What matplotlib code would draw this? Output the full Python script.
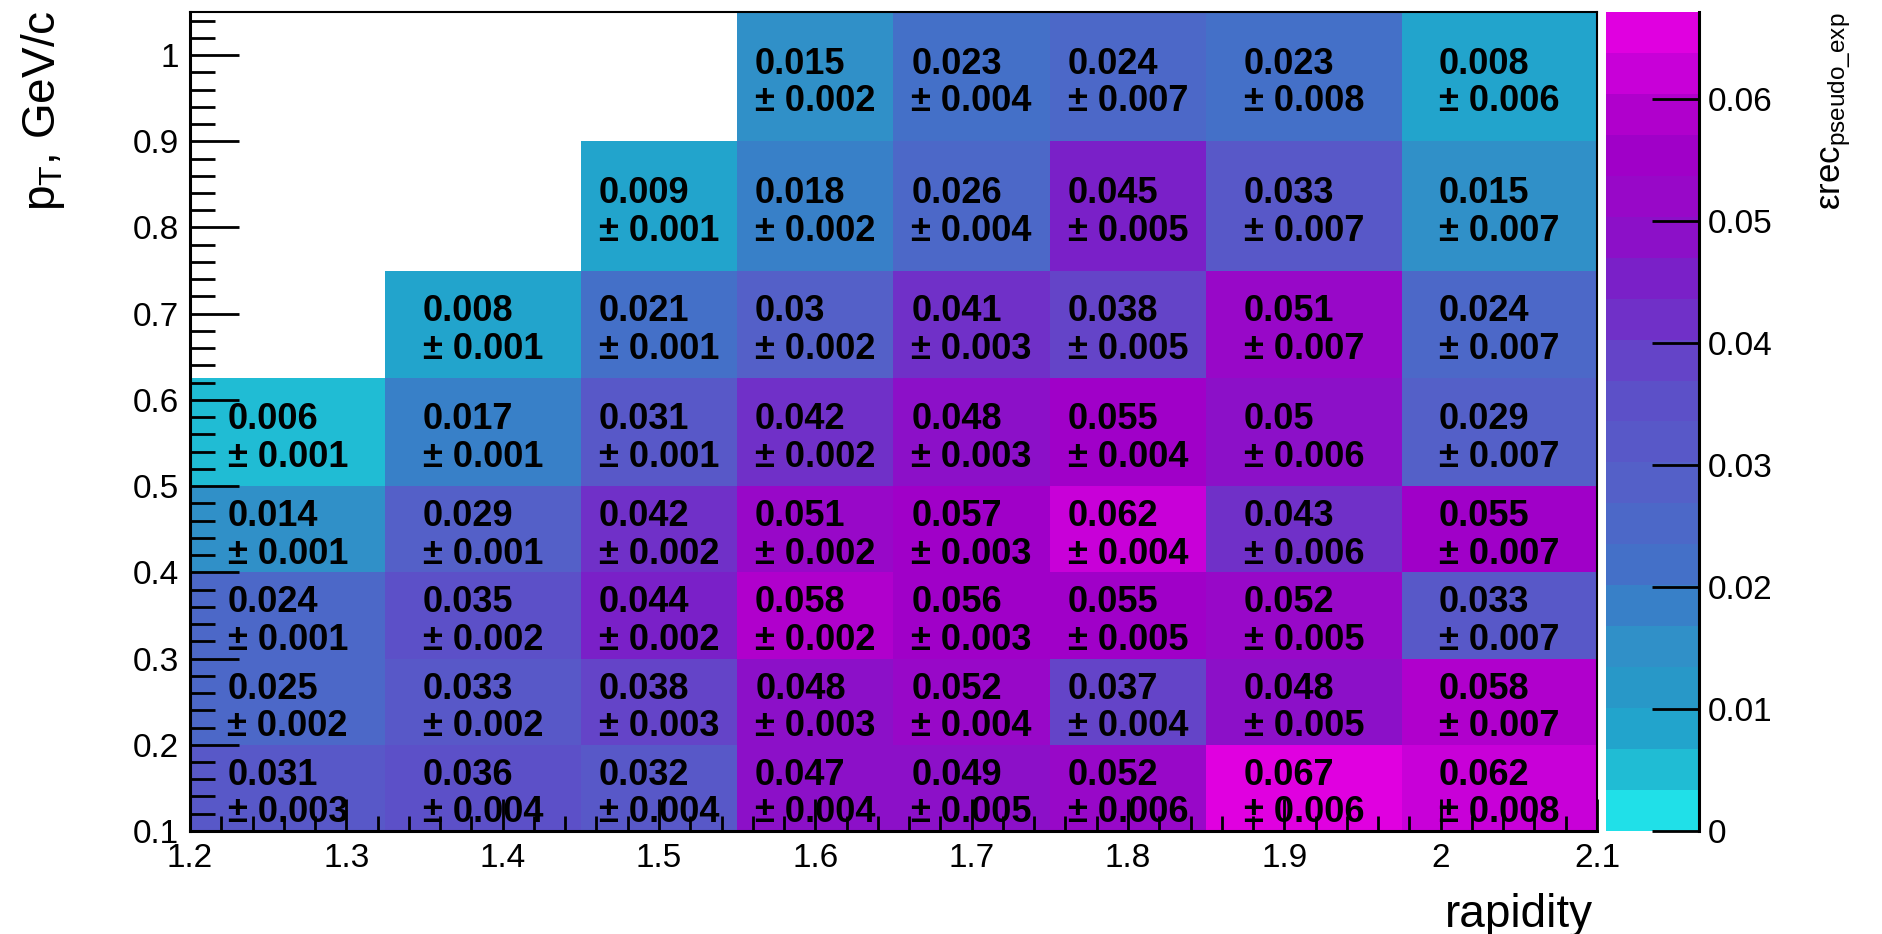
import numpy as np
import matplotlib
matplotlib.use('Agg')
import matplotlib.pyplot as plt
from matplotlib.colors import ListedColormap, BoundaryNorm
from matplotlib.ticker import MultipleLocator, FuncFormatter
from matplotlib.transforms import offset_copy

plt.rcParams['font.family'] = ['Liberation Sans', 'DejaVu Sans']
plt.rcParams['mathtext.fontset'] = 'custom'
plt.rcParams['mathtext.rm'] = 'Liberation Sans'
plt.rcParams['mathtext.it'] = 'Liberation Sans:italic'

# bin edges
rapidity_edges = [1.2, 1.325, 1.45, 1.55, 1.65, 1.75, 1.85, 1.975, 2.1]
pt_edges = [0.1, 0.2, 0.3, 0.4, 0.5, 0.625, 0.75, 0.9, 1.05]

# efficiency per pT bin (bottom to top), one entry per rapidity bin; nan = empty bin
eff_pt0 = [0.031, 0.036, 0.032, 0.047, 0.049, 0.052, 0.067, 0.062]
eff_pt1 = [0.025, 0.033, 0.038, 0.048, 0.052, 0.037, 0.048, 0.058]
eff_pt2 = [0.024, 0.035, 0.044, 0.058, 0.056, 0.055, 0.052, 0.033]
eff_pt3 = [0.014, 0.029, 0.042, 0.051, 0.057, 0.062, 0.043, 0.055]
eff_pt4 = [0.006, 0.017, 0.031, 0.042, 0.048, 0.055, 0.050, 0.029]
eff_pt5 = [np.nan, 0.008, 0.021, 0.030, 0.041, 0.038, 0.051, 0.024]
eff_pt6 = [np.nan, np.nan, 0.009, 0.018, 0.026, 0.045, 0.033, 0.015]
eff_pt7 = [np.nan, np.nan, np.nan, 0.015, 0.023, 0.024, 0.023, 0.008]

# errors, same layout
err_pt0 = [0.003, 0.004, 0.004, 0.004, 0.005, 0.006, 0.006, 0.008]
err_pt1 = [0.002, 0.002, 0.003, 0.003, 0.004, 0.004, 0.005, 0.007]
err_pt2 = [0.001, 0.002, 0.002, 0.002, 0.003, 0.005, 0.005, 0.007]
err_pt3 = [0.001, 0.001, 0.002, 0.002, 0.003, 0.004, 0.006, 0.007]
err_pt4 = [0.001, 0.001, 0.001, 0.002, 0.003, 0.004, 0.006, 0.007]
err_pt5 = [np.nan, 0.001, 0.001, 0.002, 0.003, 0.005, 0.007, 0.007]
err_pt6 = [np.nan, np.nan, 0.001, 0.002, 0.004, 0.005, 0.007, 0.007]
err_pt7 = [np.nan, np.nan, np.nan, 0.002, 0.004, 0.007, 0.008, 0.006]

eff = np.array([eff_pt0, eff_pt1, eff_pt2, eff_pt3, eff_pt4, eff_pt5, eff_pt6, eff_pt7])
err = np.array([err_pt0, err_pt1, err_pt2, err_pt3, err_pt4, err_pt5, err_pt6, err_pt7])

# palette, 20 contour levels (bottom -> top)
palette = ['#20e0e8', '#20bcd4', '#22a4cc', '#2898c8', '#3090c8',
           '#3880c8', '#4470c8', '#4c68c8', '#5460c8', '#5858c8',
           '#5c50c8', '#6444c8', '#7030c8', '#7a20c8', '#8c10c8',
           '#9808c8', '#a000c8', '#b000cc', '#c800d8', '#e000e0']
zmax = 0.0671
levels = np.linspace(0, zmax, len(palette) + 1)
cmap = ListedColormap(palette)
norm = BoundaryNorm(levels, cmap.N)


def fmt(v):
    return f'{v:.3f}'.rstrip('0').rstrip('.')


fig = plt.figure(figsize=(18.83, 9.34), dpi=100)
ax = fig.add_axes([0.1009, 0.1103, 0.7472, 0.8769])
cax = fig.add_axes([0.8529, 0.1103, 0.0494, 0.8769])

mesh = ax.pcolormesh(rapidity_edges, pt_edges, np.ma.masked_invalid(eff),
                     cmap=cmap, norm=norm)

# cell labels sit a little below the bin centre, as in ROOT
text_tr = offset_copy(ax.transData, fig=fig, y=-4.5, units='points')
for i in range(len(pt_edges) - 1):
    yc = 0.5 * (pt_edges[i] + pt_edges[i + 1])
    for j in range(len(rapidity_edges) - 1):
        if np.isnan(eff[i, j]):
            continue
        xc = 0.5 * (rapidity_edges[j] + rapidity_edges[j + 1])
        ax.text(xc, yc, f'{fmt(eff[i, j])}\n\u00b1 {err[i, j]:.3f}',
                ha='center', va='center', multialignment='left',
                fontsize=26, fontweight='bold', linespacing=1.1, zorder=3,
                transform=text_tr)

ax.set_xlim(1.2, 2.1)
ax.set_ylim(0.1, 1.05)
tickfmt = FuncFormatter(lambda v, p: f'{round(v, 3):g}')
ax.xaxis.set_major_locator(MultipleLocator(0.1))
ax.xaxis.set_minor_locator(MultipleLocator(0.02))
ax.yaxis.set_major_locator(MultipleLocator(0.1))
ax.yaxis.set_minor_locator(MultipleLocator(0.02))
ax.xaxis.set_major_formatter(tickfmt)
ax.yaxis.set_major_formatter(tickfmt)
ax.tick_params(which='both', direction='in', top=False, right=False,
               width=2, labelsize=24, color='k')
ax.tick_params(axis='x', which='major', length=23, pad=9)
ax.tick_params(axis='x', which='minor', length=11)
ax.tick_params(axis='y', which='major', length=35, pad=8)
ax.tick_params(axis='y', which='minor', length=18)
for side in ['left', 'bottom']:
    ax.spines[side].set_linewidth(2.2)
for side in ['top', 'right']:
    ax.spines[side].set_linewidth(1.5)

cb = fig.colorbar(mesh, cax=cax, ticks=np.arange(0, 0.061, 0.01))
cb.outline.set_visible(False)
cb.ax.minorticks_off()
cb.ax.yaxis.set_major_formatter(tickfmt)
cb.ax.tick_params(direction='in', length=34, width=2, labelsize=24, pad=6)
cax.plot([1, 1], [0, 1], transform=cax.transAxes, color='k', lw=2.2,
         clip_on=False)

fig.text(43 / 1883, 1 - 10 / 934, r'$\mathregular{p_{T}}$, GeV/c',
         rotation=90, ha='center', va='top', fontsize=33)
fig.text(1593 / 1883, 1 - 927 / 934, 'rapidity', ha='right', va='baseline',
         fontsize=33)
fig.text(1836 / 1883, 1 - 12 / 934,
         r'$\mathregular{\varepsilon rec_{pseudo\_exp}}$',
         rotation=90, ha='center', va='top', fontsize=25)

fig.savefig('out.png', dpi=100)
